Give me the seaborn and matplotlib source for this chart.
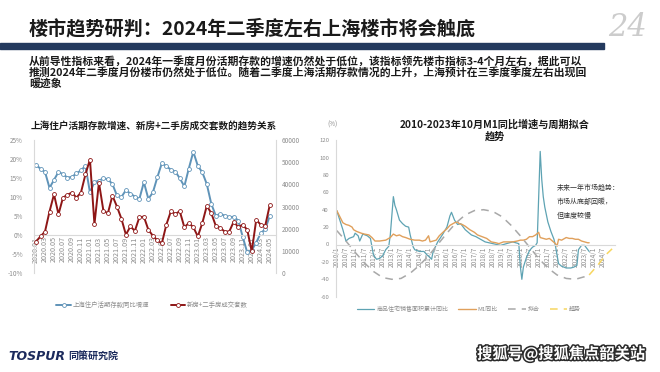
import matplotlib
matplotlib.use("Agg")
import matplotlib.pyplot as plt
import matplotlib.patheffects as pe
from matplotlib.patches import Rectangle
import seaborn as sns

# ---- left chart: monthly, 2020.01 - 2024.05 ----
deposit_growth = [18.5, 17.4, 16.6, 12.4, 14.5, 16.6, 16.0, 15.1, 15.3, 16.2, 17.0, 18.2,
                  11.2, 13.9, 14.3, 14.9, 14.7, 13.4, 10.4, 10.0, 11.8, 10.9, 10.1, 9.5,
                  13.9, 9.5, 11.2, 15.2, 18.9, 18.1, 17.2, 16.7, 14.9, 12.8, 17.5, 21.9,
                  18.2, 16.5, 13.4, 8.2, 5.1, 5.5, 5.1, 4.7, 4.8, 3.8, -0.5, -4.6,
                  -4.0, -2.0, 0.5, 1.5, 5.0]
deals = [14200, 16500, 18700, 27700, 35500, 26500, 34000, 35300, 36300, 34000, 36300, 44500,
         51200, 22000, 40800, 28000, 27000, 34900, 30000, 24500, 17300, 21000, 19000, 25200,
         25400, 19500, 16800, 14700, 13400, 21800, 27800, 26700, 27800, 20700, 22500, 20700,
         16500, 22500, 30300, 27000, 21300, 20300, 18700, 18700, 23200, 20700, 21800, 19500,
         9700, 24000, 21800, 21300, 30500]
left_ticks = ['2020.01', '2020.03', '2020.05', '2020.07', '2020.09', '2020.11',
              '2021.01', '2021.03', '2021.05', '2021.07', '2021.09', '2021.11',
              '2022.01', '2022.03', '2022.05', '2022.07', '2022.09', '2022.11',
              '2023.01', '2023.03', '2023.05', '2023.07', '2023.09', '2023.11',
              '2024.01', '2024.03', '2024.05']
left_yticks = [-10, -5, 0, 5, 10, 15, 20, 25]
left_ylabels = ['-10%', '-5%', '0%', '5%', '10%', '15%', '20%', '25%']
right_yticks = [0, 10000, 20000, 30000, 40000, 50000, 60000]

# ---- right chart: month index, 0 = 2010/1 ----
sales_m = [0, 2, 4, 6, 8, 11, 12, 14, 15, 17, 20, 22, 24, 26, 28, 30, 32, 34, 35, 37, 38, 39,
           41, 43, 45, 47, 48, 50, 51, 54, 57, 59, 61, 62, 63, 66, 69, 72, 74, 75, 77, 79, 81,
           84, 88, 91, 97, 102, 107, 111, 115, 119, 120, 121, 122, 124, 126, 128, 130, 131,
           133, 134, 135, 136, 138, 140, 142, 143, 145, 147, 150, 153, 155, 157, 158, 160,
           162, 165]
sales_v = [39, 28, 17, 4, 7, 9, 13, 10, 4, 12, 10, 7, -12, -17, -16, -13, -6, -2, 11, 55, 45, 40,
           28, 24, 21, 20, 11, -3, -6, -8, -8, -12, -15, -17, -8, 3, 11, 20, 33, 37, 28, 23, 24,
           17, 11, 9, 3, 1, -1, 1, 3, 1, -25, -40, -26, -15, -7, -3, -1, 2,
           107, 75, 55, 43, 26, 15, 6, -2, -22, -25, -27, -27, -26, -24, -6, -1,
           -1, -8]
m1_m = [0, 2, 4, 6, 8, 10, 11, 13, 16, 18, 21, 23, 25, 28, 32, 35, 37, 39, 41, 43, 45, 48, 51,
        54, 56, 58, 60, 61, 63, 65, 67, 70, 72, 74, 77, 79, 80, 82, 84, 87, 90, 92, 95, 98,
        101, 104, 106, 109, 112, 115, 118, 120, 122, 124, 126, 128, 130, 132, 133, 135, 137,
        139, 141, 143, 144, 145, 147, 150, 152, 154, 156, 158, 160, 162, 164, 165]
m1_v = [39, 32, 25, 23, 22, 20, 17, 15, 13, 12, 11, 8, 4, 4, 5, 8, 12, 10, 11, 9, 8, 6, 5,
        5, 4, 5, 10, 3, 4, 5, 10, 15, 18, 22, 25, 26, 24, 23, 21, 17, 14, 11, 9, 7,
        3, 2, 1, 3, 3, 3, 4, 5, 5, 6, 9, 9, 11, 14, 8, 7, 6,
        7, 4, 1, -2, 6, 5, 8, 7, 7, 6, 6, 4, 3, 2, 2]
fit_m = [0, 6, 12, 18, 24, 30, 36, 42, 48, 54, 60, 66, 72, 78, 84, 90, 96, 102, 108, 114,
         120, 126, 132, 138, 144, 150, 156, 162, 165]
fit_v = [16, 4, -9, -21, -31, -38, -40, -39, -33, -24, -13, 0, 13, 25, 34, 39, 40, 38, 32, 22,
         10, -3, -16, -27, -35, -39, -40, -37, -35]
trend_m = [165, 168, 171, 174, 177, 180]
trend_v = [-35, -29, -23, -16, -10, -5]
right_ticks = ['2010/1', '2010/7', '2011/1', '2011/7', '2012/1', '2012/7', '2013/1', '2013/7',
               '2014/1', '2014/7', '2015/1', '2015/7', '2016/1', '2016/7', '2017/1', '2017/7',
               '2018/1', '2018/7', '2019/1', '2019/7', '2020/1', '2020/7', '2021/1', '2021/7',
               '2022/1', '2022/7', '2023/1', '2023/7', '2024/1', '2024/7']

sns.set_theme(style="white")
plt.rcParams['font.family'] = ['Noto Sans CJK SC', 'DejaVu Sans']
plt.rcParams['axes.unicode_minus'] = False

W, H = 660, 372
fig = plt.figure(figsize=(6.6, 3.72), dpi=100)


def box(x0, y0, x1, y1):
    return [x0 / W, 1 - y1 / H, (x1 - x0) / W, (y1 - y0) / H]


GRAY = '#8c8c8c'
SPINE = '#d9d9d9'
BLUE = '#5f93b8'
RED = '#8e1616'

# header
fig.text(29 / W, 1 - 28.5 / H, '楼市趋势研判：2024年二季度左右上海楼市将会触底',
         fontsize=13.8, fontweight='bold', color='#1a1a1a', va='center')
fig.patches.append(Rectangle((0, 1 - 48.7 / H), 604 / W, 6 / H, transform=fig.transFigure,
                             color='#243a5e', zorder=1))
fig.text(628 / W, 1 - 27 / H, '24', fontsize=22, style='italic', family='DejaVu Serif',
         color='#cccccc', ha='center', va='center')
para = ['从前导性指标来看，2024年一季度月份活期存款的增速仍然处于低位，该指标领先楼市指标3-4个月左右，据此可以',
        '推测2024年二季度月份楼市仍然处于低位。随着二季度上海活期存款情况的上升，上海预计在三季度季度左右出现回',
        '暖迹象']
for k, line in enumerate(para):
    fig.text(29 / W, 1 - (61 + 11.2 * k) / H, line, fontsize=7.8, fontweight='bold',
             color='#1a1a1a', va='center')

# ---- left chart ----
idx = list(range(len(deposit_growth)))
ax1 = fig.add_axes(box(34, 140, 276, 273))
sns.lineplot(x=idx, y=deposit_growth, ax=ax1, color=BLUE, lw=1.4, marker='o', ms=2.8,
             mfc='white', mec=BLUE, mew=0.6, label='上海住户活期存款同比增速')
ax2 = ax1.twinx()
sns.lineplot(x=idx, y=deals, ax=ax2, color=RED, lw=1.4, marker='o', ms=2.8,
             mfc='white', mec=RED, mew=0.6, label='新房+二手房成交套数')
ax1.spines['bottom'].set_position(('data', 0))
ax1.set_xlim(-0.45, 53.4)
ax1.set_ylim(-10, 25)
ax2.set_ylim(0, 60000)
ax1.set_xticks(idx[::2])
ax1.set_xticklabels(left_ticks)
ax1.set_yticks(left_yticks)
ax1.set_yticklabels(left_ylabels)
ax2.set_yticks(right_yticks)
for s in ['top', 'right']:
    ax1.spines[s].set_visible(False)
for s in ['top', 'bottom', 'left']:
    ax2.spines[s].set_visible(False)
ax1.spines['bottom'].set_color(SPINE)
ax1.spines['left'].set_color(SPINE)
ax2.spines['right'].set_color(SPINE)
for s in [ax1.spines['bottom'], ax1.spines['left'], ax2.spines['right']]:
    s.set_linewidth(0.8)
ax1.tick_params(axis='x', length=0, labelsize=5.2, labelcolor=GRAY, pad=1, labelrotation=90)
ax1.tick_params(axis='y', length=0, labelsize=4.6, labelcolor=GRAY, pad=8)
ax2.tick_params(axis='y', length=0, labelsize=4.6, labelcolor=GRAY, pad=4)
ax1.set_xlabel('')
ax1.set_ylabel('')
ax2.set_ylabel('')
h1, l1 = ax1.get_legend_handles_labels()
h2, l2 = ax2.get_legend_handles_labels()
ax1.get_legend().remove()
ax2.get_legend().remove()
fig.legend(h1 + h2, l1 + l2, loc='center', bbox_to_anchor=(152 / W, 1 - 305 / H), ncol=2,
           frameon=False, fontsize=4.6, handlelength=2.3, handletextpad=0.25,
           columnspacing=3.4, labelcolor=GRAY)
fig.text(154 / W, 1 - 126 / H, '上海住户活期存款增速、新房+二手房成交套数的趋势关系',
         fontsize=6.9, fontweight='bold', color='#1a1a1a', ha='center', va='center')

# ---- right chart ----
ax3 = fig.add_axes(box(336, 140.1, 615, 296.7))
sns.lineplot(x=sales_m, y=sales_v, ax=ax3, color='#5ea3b3', lw=0.9, label='商品住宅销售面积累计同比')
sns.lineplot(x=m1_m, y=m1_v, ax=ax3, color='#e0a05c', lw=1.0, label='M1同比')
sns.lineplot(x=fit_m, y=fit_v, ax=ax3, color='#a8a8a8', lw=1.1, label='拟合')
ax3.lines[-1].set_dashes([5, 4])
sns.lineplot(x=trend_m, y=trend_v, ax=ax3, color='#f7d660', lw=1.1, label='趋势')
ax3.lines[-1].set_dashes([5, 4])
ax3.spines['bottom'].set_position(('data', 0))
ax3.set_xlim(-0.5, 181.9)
ax3.set_ylim(-60, 120)
ax3.set_yticks(list(range(-60, 121, 20)))
ax3.set_xticks(list(range(0, 175, 6)))
ax3.set_xticklabels(right_ticks)
for s in ['top', 'right']:
    ax3.spines[s].set_visible(False)
ax3.spines['bottom'].set_color(SPINE)
ax3.spines['left'].set_color(SPINE)
ax3.spines['bottom'].set_linewidth(0.8)
ax3.spines['left'].set_linewidth(0.8)
ax3.tick_params(axis='x', length=0, labelsize=4.6, labelcolor=GRAY, pad=1.5, labelrotation=90)
ax3.tick_params(axis='y', length=0, labelsize=4.3, labelcolor=GRAY, pad=5)
ax3.set_xlabel('')
ax3.set_ylabel('')
h3, l3 = ax3.get_legend_handles_labels()
ax3.get_legend().remove()
fig.legend(h3, l3, loc='center', bbox_to_anchor=(469 / W, 1 - 309 / H), ncol=4,
           frameon=False, fontsize=4.3, handlelength=2.9, handletextpad=0.35,
           columnspacing=1.7, labelcolor=GRAY)
fig.text(495 / W, 1 - 131 / H, '2010-2023年10月M1同比增速与周期拟合\n趋势', fontsize=7.3,
         fontweight='bold', color='#1a1a1a', ha='center', va='center', linespacing=1.2)
fig.text(333 / W, 1 - 125 / H, '(%)', fontsize=4.5, color=GRAY, ha='center', va='center')
note = ['未来一年市场趋势：', '市场从底部回暖，', '但速度较慢']
for k, line in enumerate(note):
    fig.text(556.7 / W, 1 - (188 + 14 * k) / H, line, fontsize=5, color='#333333', va='center')

# footer
fig.text(8 / W, 1 - 356.7 / H, 'TOSPUR', fontsize=9, fontweight='heavy', style='italic',
         family='DejaVu Sans', color='#1b2a5c', va='center')
fig.text(68 / W, 1 - 356.7 / H, '同策研究院', fontsize=7.2, fontweight='bold',
         color='#1b2a5c', va='center')
fig.text(561 / W, 1 - 354 / H, '搜狐号@搜狐焦点韶关站', fontsize=11, fontweight='bold',
         color='white', ha='center', va='center',
         path_effects=[pe.withStroke(linewidth=2.2, foreground='#2b2b2b')])

plt.savefig('out.png', dpi=100)
